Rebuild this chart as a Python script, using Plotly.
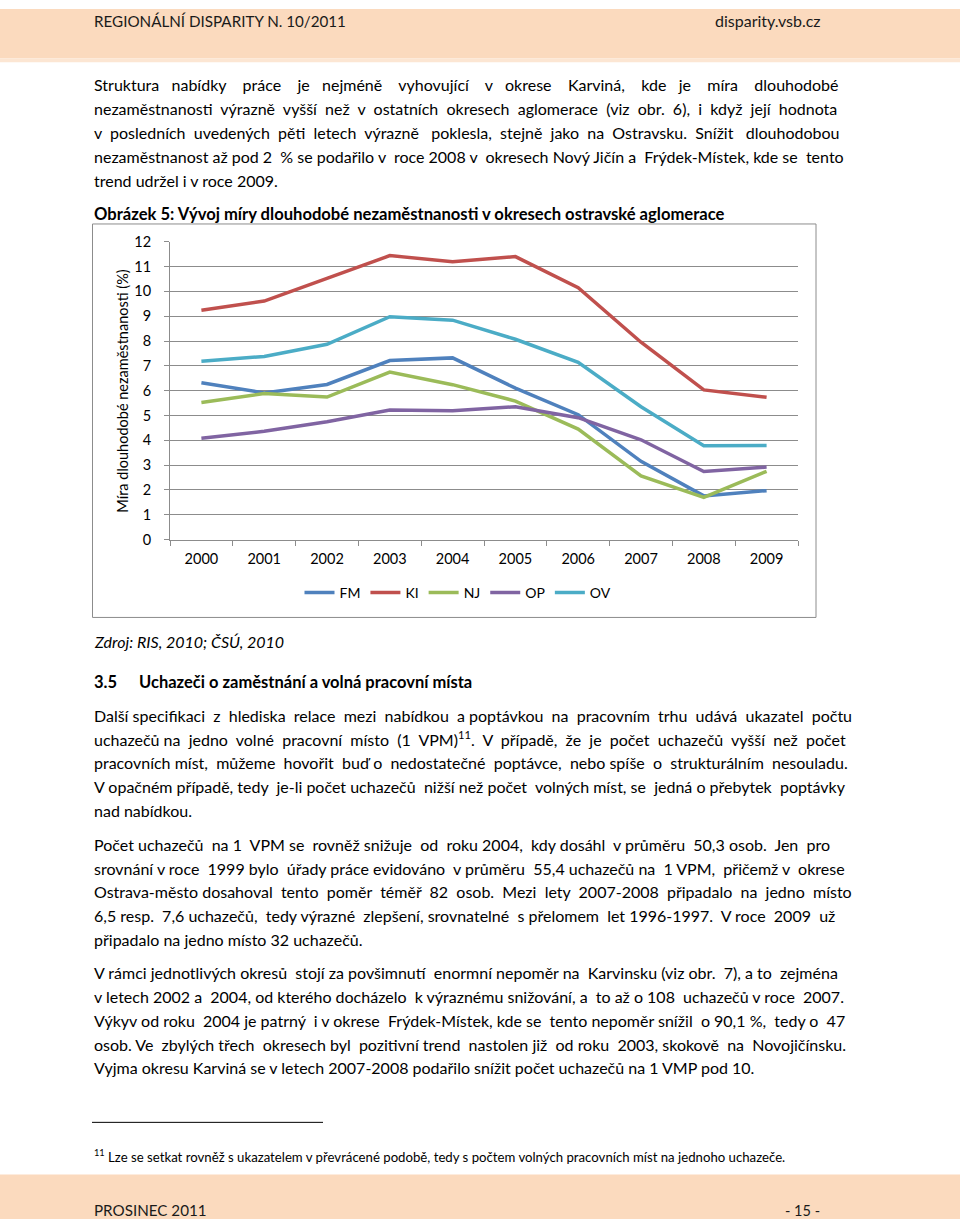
import plotly.graph_objects as go

W, H = 960, 1227

years = ["2000", "2001", "2002", "2003", "2004", "2005", "2006", "2007", "2008", "2009"]
fm = [6.32, 5.91, 6.25, 7.21, 7.32, 6.10, 5.03, 3.15, 1.76, 1.97]
ki = [9.24, 9.61, 10.52, 11.44, 11.19, 11.40, 10.15, 7.95, 6.03, 5.73]
nj = [5.52, 5.88, 5.74, 6.75, 6.24, 5.58, 4.45, 2.56, 1.70, 2.75]
op = [4.08, 4.36, 4.75, 5.22, 5.19, 5.35, 4.91, 4.02, 2.74, 2.92]
ov = [7.18, 7.38, 7.87, 8.98, 8.84, 8.07, 7.14, 5.35, 3.78, 3.79]

series = [("FM", fm, "#4F81BD"), ("KI", ki, "#C0504D"), ("NJ", nj, "#9BBB59"),
          ("OP", op, "#8064A2"), ("OV", ov, "#4BACC6")]

FONT = "Lato"
BODY = 16
GRID = "#8C8C8C"


def px(x):
    return x / W


def py(y):
    return 1 - y / H


fig = go.Figure()
for name, vals, col in series:
    fig.add_trace(go.Scatter(x=years, y=vals, name=name, mode="lines",
                             line=dict(color=col, width=3.5)))

annotations = []


def text(x, y, s, size=BODY, anchor="left", color="#000000", angle=0):
    annotations.append(dict(x=px(x), y=py(y), xref="paper", yref="paper", text=s,
                            showarrow=False, xanchor=anchor, yanchor="middle",
                            textangle=angle,
                            font=dict(family=FONT, size=size, color=color)))


def justify(line, n):
    """Spread words by adding n non-breaking spaces to approximate justified text."""
    words = line.split(" ")
    gaps = len(words) - 1
    if gaps <= 0 or n <= 0:
        return line
    out = words[0]
    for i in range(gaps):
        k = (n * (i + 1)) // gaps - (n * i) // gaps
        out += " " + "\u00a0" * k + words[i + 1]
    return out


# header / footer
text(92, 12, "REGIONÁLNÍ DISPARITY N. 10/2011", size=15.2, color="#1a1a1a")
text(823, 12, "disparity.vsb.cz", size=16, anchor="right", color="#1a1a1a")
text(92, 1218, "PROSINEC 2011", size=15.2, color="#1a1a1a")
text(822, 1218, "- 15 -", size=14.5, anchor="right", color="#1a1a1a")

p1 = ["Struktura nabídky práce je nejméně vyhovující v okrese Karviná, kde je míra dlouhodobé",
      "nezaměstnanosti výrazně vyšší než v ostatních okresech aglomerace (viz obr. 6), i když její hodnota",
      "v posledních uvedených pěti letech výrazně poklesla, stejně jako na Ostravsku. Snížit dlouhodobou",
      "nezaměstnanost až pod 2 % se podařilo v roce 2008 v okresech Nový Jičín a Frýdek-Místek, kde se tento",
      "trend udržel i v roce 2009."]
p2 = ["Další specifikaci z hlediska relace mezi nabídkou a poptávkou na pracovním trhu udává ukazatel počtu",
      "uchazečů na jedno volné pracovní místo (1 VPM)<sup>11</sup>. V případě, že je počet uchazečů vyšší než počet",
      "pracovních míst, můžeme hovořit buď o nedostatečné poptávce, nebo spíše o strukturálním nesouladu.",
      "V opačném případě, tedy je-li počet uchazečů nižší než počet volných míst, se jedná o přebytek poptávky",
      "nad nabídkou."]
p3 = ["Počet uchazečů na 1 VPM se rovněž snižuje od roku 2004, kdy dosáhl v průměru 50,3 osob. Jen pro",
      "srovnání v roce 1999 bylo úřady práce evidováno v průměru 55,4 uchazečů na 1 VPM, přičemž v okrese",
      "Ostrava-město dosahoval tento poměr téměř 82 osob. \u00a0Mezi lety 2007-2008 připadalo na jedno místo",
      "6,5 resp. 7,6 uchazečů, tedy výrazné zlepšení, srovnatelné s přelomem let 1996-1997. V roce 2009 už",
      "připadalo na jedno místo 32 uchazečů."]
p4 = ["V rámci jednotlivých okresů stojí za povšimnutí enormní nepoměr na Karvinsku (viz obr. 7), a to zejména",
      "v letech 2002 a 2004, od kterého docházelo k výraznému snižování, a to až o 108 uchazečů v roce 2007.",
      "Výkyv od roku 2004 je patrný i v okrese Frýdek-Místek, kde se tento nepoměr snížil o 90,1 %, tedy o 47",
      "osob. Ve zbylých třech okresech byl pozitivní trend nastolen již od roku 2003, skokově na Novojičínsku.",
      "Vyjma okresu Karviná se v letech 2007-2008 podařilo snížit počet uchazečů na 1 VMP pod 10."]

# extra spaces per line used to imitate the justified paragraphs
p1_pad = [32, 14, 14, 5, 0]
p2_pad = [12, 15, 9, 5, 0]
p3_pad = [10, 7, 11, 8, 0]
p4_pad = [5, 5, 7, 8, 0]

for para, pads, y0 in [(p1, p1_pad, 77), (p2, p2_pad, 716), (p3, p3_pad, 847), (p4, p4_pad, 977)]:
    for i, (line, n) in enumerate(zip(para, pads)):
        text(92, y0 + i * 24.2, justify(line, n))

text(92, 208, "<b>Obrázek 5: Vývoj míry dlouhodobé nezaměstnanosti v okresech ostravské aglomerace</b>", size=16.6)
text(92, 641, "<i>Zdroj: RIS, 2010; ČSÚ, 2010</i>")
text(92, 682, "<b>3.5</b>", size=16.5)
text(137, 682, "<b>Uchazeči o zaměstnání a volná pracovní místa</b>", size=16.5)
text(92, 1163, "<sup>11</sup> Lze se setkat rovněž s ukazatelem v převrácené podobě, tedy s počtem volných pracovních míst na jednoho uchazeče.", size=13.2)

# y axis title
text(123, 387, "Míra dlouhodobé nezaměstnanosti (%)", size=14.5, anchor="center", angle=-90)

shapes = [
    dict(type="rect", xref="paper", yref="paper", x0=0, x1=1, y0=py(50), y1=1,
         fillcolor="#FBDABE", line=dict(width=0), layer="below"),
    dict(type="rect", xref="paper", yref="paper", x0=0, x1=1, y0=py(54), y1=py(50),
         fillcolor="#FCE6D3", line=dict(width=0), layer="below"),
    dict(type="rect", xref="paper", yref="paper", x0=0, x1=1, y0=0, y1=py(1182),
         fillcolor="#FBDABE", line=dict(width=0), layer="below"),
    dict(type="rect", xref="paper", yref="paper", x0=px(92.5), x1=px(816), y0=py(617), y1=py(218),
         line=dict(color=GRID, width=1), layer="below"),
    dict(type="line", xref="paper", yref="paper", x0=px(92), x1=px(323), y0=py(1129), y1=py(1129),
         line=dict(color="#000000", width=1)),
]

fig.update_layout(
    width=W, height=H, margin=dict(l=0, r=0, t=0, b=0),
    paper_bgcolor="white", plot_bgcolor="white",
    showlegend=True,
    legend=dict(orientation="h", x=px(458), xanchor="center", y=py(592), yanchor="middle",
                font=dict(family=FONT, size=14, color="#000000"), itemwidth=30,
                tracegroupgap=0),
    annotations=annotations, shapes=shapes,
    xaxis=dict(domain=[px(170), px(798)], type="category", range=[-0.5, 9.5],
               tickson="boundaries",
               ticks="outside", ticklen=5, tickcolor=GRID, showline=True, linecolor=GRID,
               showgrid=False, tickfont=dict(family=FONT, size=14.5, color="#000000"),
               ticklabelstandoff=6, fixedrange=True),
    yaxis=dict(domain=[py(538), py(236)], range=[0, 12], dtick=1, ticks="outside",
               ticklen=5, tickcolor=GRID, showline=True, linecolor=GRID, showgrid=True,
               gridcolor=GRID, zeroline=False,
               tickfont=dict(family=FONT, size=14.5, color="#000000"),
               ticklabelstandoff=10, fixedrange=True),
)

fig.write_html("out.html", config={"displayModeBar": False},
               post_script="document.body.style.margin='0';document.body.style.overflow='hidden';")
